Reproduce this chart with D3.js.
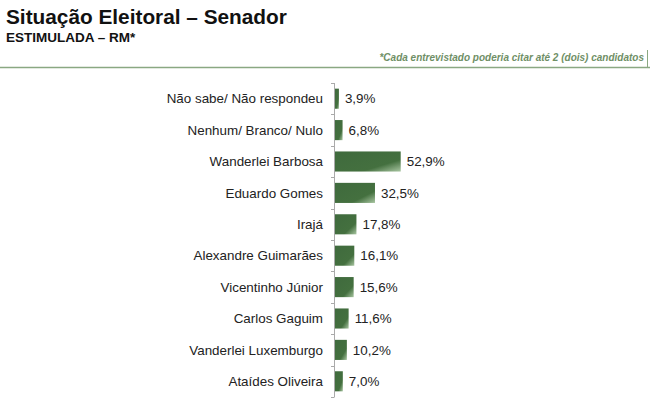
<!DOCTYPE html>
<html>
<head>
<meta charset="utf-8">
<script src="https://cdn.jsdelivr.net/npm/d3@7"></script>
<style>
  body { margin: 0; background: #fff; }
  svg { display: block; font-family: Arial, "Liberation Sans", sans-serif; }
</style>
</head>
<body>
<div class="canvas"></div>
<script>
// chart data
const categories = ['Não sabe/ Não respondeu', 'Nenhum/ Branco/ Nulo', 'Wanderlei Barbosa', 'Eduardo Gomes',
  'Irajá', 'Alexandre Guimarães', 'Vicentinho Júnior', 'Carlos Gaguim', 'Vanderlei Luxemburgo', 'Ataídes Oliveira']
const values = [3.9, 6.8, 52.9, 32.5, 17.8, 16.1, 15.6, 11.6, 10.2, 7.0]
const labels = ['3,9%', '6,8%', '52,9%', '32,5%', '17,8%', '16,1%', '15,6%', '11,6%', '10,2%', '7,0%']

const svg = d3.select('.canvas')
  .append('svg')
  .attr('width', 650)
  .attr('height', 402)

// header
svg.append('text').attr('x', 6).attr('y', 24)
  .attr('font-size', 20.8).attr('font-weight', 'bold').attr('fill', '#111')
  .text('Situação Eleitoral – Senador')
svg.append('text').attr('x', 6).attr('y', 42)
  .attr('font-size', 13.5).attr('font-weight', 'bold').attr('fill', '#111')
  .text('ESTIMULADA – RM*')
svg.append('text').attr('x', 644).attr('y', 61)
  .attr('font-size', 10).attr('font-style', 'italic').attr('font-weight', 'bold')
  .attr('text-anchor', 'end').attr('fill', '#6f8f66')
  .text('*Cada entrevistado poderia citar até 2 (dois) candidatos')
svg.append('line').attr('x1', 0).attr('x2', 650).attr('y1', 67.5).attr('y2', 67.5)
  .attr('stroke', '#8aa882').attr('stroke-width', 1.5)
svg.append('line').attr('x1', 647.5).attr('x2', 647.5).attr('y1', 50).attr('y2', 67)
  .attr('stroke', '#8aa882').attr('stroke-width', 1)

// gradient for bars
const grad = svg.append('defs').append('linearGradient')
  .attr('id', 'barGrad').attr('x1', '0%').attr('y1', '0%').attr('x2', '100%').attr('y2', '100%')
grad.append('stop').attr('offset', '0%').attr('stop-color', '#3f6a3d')
grad.append('stop').attr('offset', '70%').attr('stop-color', '#44703f')
grad.append('stop').attr('offset', '100%').attr('stop-color', '#a9c6a2')

const margin = {top: 83, left: 334}
const graphHeight = 314

const graph = svg.append('g')
  .attr('transform', `translate(${margin.left}, ${margin.top})`)

const y = d3.scaleBand()
  .domain(categories)
  .range([0, graphHeight])
  .paddingInner(0.36)
  .paddingOuter(0.18)

const x = d3.scaleLinear()
  .domain([0, 52.9])
  .range([0, 66.7])

// axis: vertical line plus ticks between categories
graph.append('line').attr('x1', 0.5).attr('x2', 0.5).attr('y1', 0).attr('y2', graphHeight)
  .attr('stroke', '#aaa')
const step = y.step()
const offset = y(categories[0]) - y.paddingInner() * step / 2
d3.range(categories.length + 1).forEach(i => {
  const ty = Math.round(offset + i * step) + 0.5
  graph.append('line').attr('x1', -3).attr('x2', 0.5).attr('y1', ty).attr('y2', ty)
    .attr('stroke', '#aaa')
})

// category labels
graph.selectAll('text.cat')
  .data(categories)
  .enter().append('text')
  .attr('class', 'cat')
  .attr('x', -11)
  .attr('y', d => y(d) + y.bandwidth() / 2)
  .attr('dy', '0.35em')
  .attr('text-anchor', 'end')
  .attr('font-size', 13.4)
  .attr('fill', '#222')
  .text(d => d)

// bars
graph.selectAll('rect')
  .data(values)
  .enter().append('rect')
  .attr('x', 1)
  .attr('y', (d, i) => y(categories[i]))
  .attr('width', d => x(d) - 1)
  .attr('height', y.bandwidth())
  .attr('fill', 'url(#barGrad)')

// value labels
graph.selectAll('text.val')
  .data(values)
  .enter().append('text')
  .attr('class', 'val')
  .attr('x', d => x(d) + 6)
  .attr('y', (d, i) => y(categories[i]) + y.bandwidth() / 2)
  .attr('dy', '0.35em')
  .attr('font-size', 13.4)
  .attr('fill', '#222')
  .text((d, i) => labels[i])
</script>
</body>
</html>
